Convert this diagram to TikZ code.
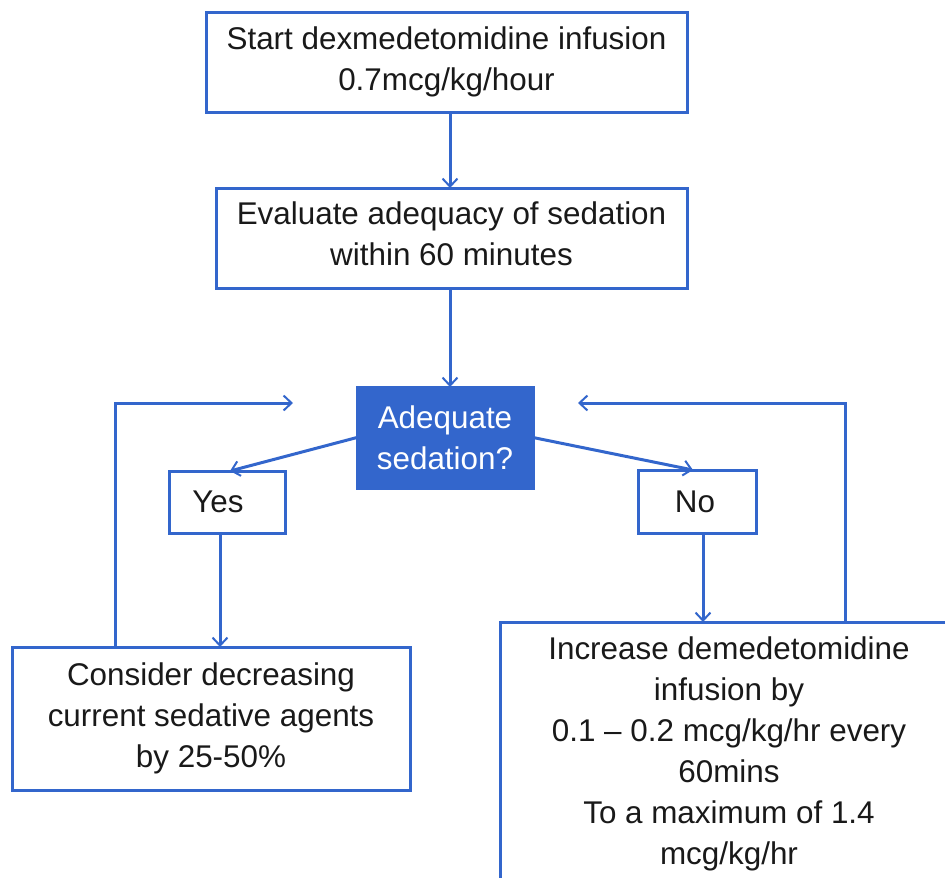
\documentclass[tikz,border=0pt]{standalone}
\usepackage{fontspec}
\setmainfont{Liberation Sans}
\usetikzlibrary{arrows.meta}
\definecolor{fc}{RGB}{51,102,204}
\tikzset{
  box/.style={draw=fc, line width=3pt, inner sep=0pt, outer sep=0pt, align=center,
    font=\fontsize{31.4}{41}\selectfont, text=black!90},
  arr/.style={draw=fc, line width=3pt, -{Straight Barb[length=8pt,width=15pt,line width=2pt]}},
}
\begin{document}
\begin{tikzpicture}[x=1pt,y=-1pt]
\useasboundingbox (0,0) rectangle (945,878);
\clip (0,0) rectangle (945,878);
\node[box, minimum width=481, minimum height=100] (start) at (446.5,62.5)
  {Start dexmedetomidine infusion\\0.7mcg/kg/hour\\[-34pt]\mbox{}};
\node[box, minimum width=471, minimum height=100] (eval) at (451.5,238)
  {Evaluate adequacy of sedation\\within 60 minutes\\[-33pt]\mbox{}};
\node[box, fill=fc, text=white, minimum width=176, minimum height=101] (adeq) at (445,437.5)
  {Adequate\\sedation?};
\node[box, minimum width=116, minimum height=62] (yes) at (227,502) {\hspace*{-18pt}Yes};
\node[box, minimum width=118, minimum height=63] (no) at (697,501.5) {\hspace*{-4pt}No};
\node[box, minimum width=398, minimum height=143] (consider) at (211,718.5)
  {Consider decreasing\\current sedative agents\\by 25-50\%};
\node[box, minimum width=458, minimum height=263] (increase) at (729,753.5)
  {Increase demedetomidine\\infusion by\\0.1 – 0.2 mcg/kg/hr every\\60mins\\To a maximum of 1.4\\mcg/kg/hr};
\coordinate (spine) at (450,0);
\coordinate (ll) at (115,403);
\coordinate (lend) at (293,403);
\coordinate (rr) at (845,403);
\coordinate (rend) at (578,403);
\draw[arr] (start.south -| spine) -- (eval.north -| spine);
\draw[arr] (eval.south -| spine) -- (adeq.north -| spine);
\draw[arr] (adeq.west) -- ([xshift=3pt]yes.north);
\draw[arr] (adeq.east) -- ([xshift=-4pt]no.north);
\draw[arr] ([xshift=-7pt]yes.south) -- ([xshift=-7pt]yes.south |- consider.north);
\draw[arr] ([xshift=6pt]no.south) -- ([xshift=6pt]no.south |- increase.north);
\draw[arr] (consider.north -| ll) -- (ll) -- (lend);
\draw[arr] (increase.north -| rr) -- (rr) -- (rend);
\end{tikzpicture}
\end{document}
